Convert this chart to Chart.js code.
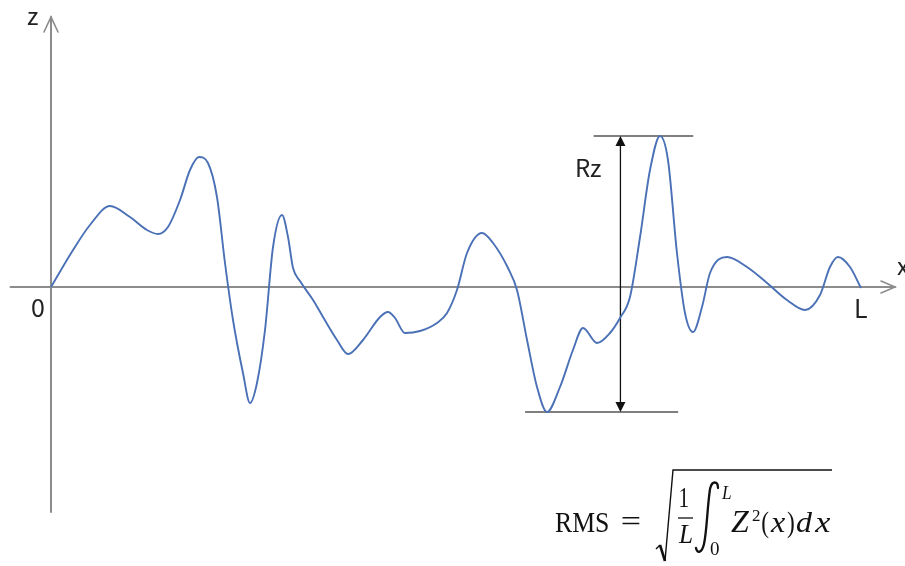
<!DOCTYPE html>
<html><head><meta charset="utf-8">
<script src="https://cdn.jsdelivr.net/npm/chart.js@4/dist/chart.umd.min.js"></script>
<style>html,body{margin:0;padding:0;background:#fff}#wrap{width:905px;height:566px;position:relative}</style>
</head><body><div id="wrap"><canvas id="c"></canvas></div>
<script>
// Profile position along the sampling length (L = 100)
const profileX = [0, 2.72, 4.81, 7.28, 9.75, 11.85, 13.21, 14.44, 15.93, 17.16, 18.27, 19.38, 20.49, 21.48, 22.47, 23.70, 24.57, 25.43, 26.42, 27.41, 28.52, 29.26, 29.88, 30.74, 32.35, 33.58, 35.31, 36.67, 38.52, 40.62, 41.60, 42.47, 43.70, 45.56, 47.65, 48.89, 50.12, 51.36, 53.21, 54.57, 56.42, 57.53, 58.77, 60.00, 61.23, 62.84, 64.44, 65.68, 67.41, 69.01, 70.25, 71.48, 72.72, 73.95, 75.19, 76.17, 77.28, 78.27, 79.26, 80.37, 81.36, 83.46, 85.93, 88.40, 90.86, 93.09, 94.94, 96.17, 97.16, 98.64, 100];
// Profile height Z(x)
const profileZ = [0, 3.7, 6.2, 8.1, 7.0, 5.7, 5.3, 6.0, 8.7, 11.7, 13.0, 12.4, 9.0, 2.4, -3.3, -8.6, -11.6, -9.6, -4.3, 4.0, 7.2, 5.0, 1.9, 0.6, -1.3, -3.0, -5.3, -6.7, -5.3, -3.0, -2.5, -3.1, -4.6, -4.4, -3.6, -2.6, -0.3, 3.4, 5.4, 4.4, 1.9, -0.3, -5.3, -10.0, -12.5, -10.0, -6.3, -4.1, -5.6, -4.6, -3.1, -1.0, 5.0, 11.7, 15.1, 12.7, 3.4, -2.6, -4.5, -2.0, 1.4, 3.0, 2.0, 0.4, -1.3, -2.3, -0.8, 2.0, 3.0, 2.0, -0.1];
// Axis / tick labels
const axisNames = ['z', 'x'];
const tickLabels = ['0', 'L'];
const rzLabel = 'Rz';
const formulaLabel = 'RMS';

const L = 100;
const rzPeak = Math.max(...profileZ);
const rzValley = Math.min(...profileZ);
const rzPeakX = profileX[profileZ.indexOf(rzPeak)];
const rzValleyX = profileX[profileZ.indexOf(rzValley)];

function drawFit(ctx, text, font, x, base, w) {
  ctx.save();
  ctx.font = font;
  ctx.textAlign = 'left';
  ctx.textBaseline = 'alphabetic';
  const m = ctx.measureText(text);
  const ink = m.actualBoundingBoxRight + m.actualBoundingBoxLeft;
  const s = ink > 0 ? w / ink : 1;
  ctx.translate(x, base);
  ctx.scale(s, 1);
  ctx.fillText(text, m.actualBoundingBoxLeft, 0);
  ctx.restore();
}

const decor = {
  id: 'decor',
  beforeDatasetsDraw(chart) {
    const ctx = chart.ctx, xs = chart.scales.x, ys = chart.scales.y;
    const px = v => xs.getPixelForValue(v), py = v => ys.getPixelForValue(v);
    ctx.save();
    // axes
    ctx.strokeStyle = '#8c8c8c'; ctx.lineWidth = 2; ctx.lineCap = 'round';
    const x0 = px(0), y0 = py(0);
    const xr = px(104.2), yt = py(27.0), yb = py(-22.5), xl = px(-5);
    ctx.beginPath(); ctx.moveTo(xl, y0); ctx.lineTo(xr, y0); ctx.stroke();
    ctx.beginPath(); ctx.moveTo(x0, yb); ctx.lineTo(x0, yt); ctx.stroke();
    ctx.lineWidth = 1.6;
    ctx.beginPath(); ctx.moveTo(xr - 14, y0 - 6); ctx.lineTo(xr, y0); ctx.lineTo(xr - 14, y0 + 6); ctx.stroke();
    ctx.beginPath(); ctx.moveTo(x0 - 7, yt + 15); ctx.lineTo(x0, yt); ctx.lineTo(x0 + 7, yt + 15); ctx.stroke();
    // Rz reference lines
    ctx.strokeStyle = '#555'; ctx.lineWidth = 1.5; ctx.lineCap = 'butt';
    const yp = py(rzPeak), yv = py(rzValley);
    ctx.beginPath(); ctx.moveTo(px(rzPeakX - 8.2), yp); ctx.lineTo(px(rzPeakX + 4.1), yp); ctx.stroke();
    ctx.beginPath(); ctx.moveTo(px(rzValleyX - 2.7), yv); ctx.lineTo(px(rzValleyX + 16.2), yv); ctx.stroke();
    // Rz dimension arrow
    const xa = px(70.3);
    ctx.strokeStyle = '#111'; ctx.lineWidth = 1.3;
    ctx.beginPath(); ctx.moveTo(xa, yp + 8); ctx.lineTo(xa, yv - 8); ctx.stroke();
    ctx.fillStyle = '#111';
    ctx.beginPath(); ctx.moveTo(xa, yp); ctx.lineTo(xa - 5, yp + 10); ctx.lineTo(xa + 5, yp + 10); ctx.closePath(); ctx.fill();
    ctx.beginPath(); ctx.moveTo(xa, yv); ctx.lineTo(xa - 5, yv - 10); ctx.lineTo(xa + 5, yv - 10); ctx.closePath(); ctx.fill();
    ctx.restore();
  },
  afterDatasetsDraw(chart) {
    const ctx = chart.ctx, xs = chart.scales.x;
    const px = v => xs.getPixelForValue(v);
    ctx.save();
    ctx.fillStyle = '#222';
    ctx.font = '24px "Noto Sans CJK JP", "Noto Sans", sans-serif';
    ctx.textBaseline = 'alphabetic'; ctx.textAlign = 'left';
    ctx.fillText(axisNames[0], 27, 25);
    ctx.fillText(axisNames[1], 897, 275);
    ctx.font = '25px "Noto Sans CJK JP", "Noto Sans", sans-serif';
    ctx.fillText(tickLabels[0], 31, 317);
    ctx.fillText(tickLabels[1], px(L) - 7, 318);
    ctx.font = '24px "Noto Sans CJK JP", "Noto Sans", sans-serif';
    ctx.fillText(rzLabel, 575, 177);

    // RMS formula
    const serif = '"Liberation Serif", "DejaVu Serif", serif';
    const it = 'italic ';
    ctx.fillStyle = '#111';
    drawFit(ctx, formulaLabel, '30px ' + serif, 555, 532, 53);
    drawFit(ctx, '=', '30px ' + serif, 622, 531, 18);
    // radical
    ctx.strokeStyle = '#111'; ctx.lineJoin = 'miter'; ctx.lineCap = 'butt';
    ctx.lineWidth = 1.4;
    ctx.beginPath(); ctx.moveTo(656, 549); ctx.lineTo(660, 545); ctx.stroke();
    ctx.lineWidth = 2.6;
    ctx.beginPath(); ctx.moveTo(660, 545); ctx.lineTo(665, 561); ctx.stroke();
    ctx.lineWidth = 1.4;
    ctx.beginPath(); ctx.moveTo(665, 561); ctx.lineTo(673, 470); ctx.lineTo(832, 470); ctx.stroke();
    // fraction 1/L
    drawFit(ctx, '1', '29px ' + serif, 680, 507, 8);
    ctx.lineWidth = 1.3;
    ctx.beginPath(); ctx.moveTo(678, 518); ctx.lineTo(693, 518); ctx.stroke();
    drawFit(ctx, 'L', it + '27px ' + serif, 678, 543, 14);
    // integral
    ctx.lineWidth = 2.3; ctx.lineCap = 'round';
    ctx.beginPath();
    ctx.moveTo(718, 488);
    ctx.bezierCurveTo(718, 481, 712, 480, 710, 489);
    ctx.bezierCurveTo(707, 510, 707, 530, 704, 544);
    ctx.bezierCurveTo(702, 553, 697, 554, 696, 548);
    ctx.stroke();
    drawFit(ctx, 'L', it + '19px ' + serif, 721, 499, 10);
    drawFit(ctx, '0', '19px ' + serif, 710, 555, 9);
    // Z^2(x)dx
    drawFit(ctx, 'Z', it + '32px ' + serif, 731, 532, 19);
    drawFit(ctx, '2', '17px ' + serif, 752, 521, 8);
    drawFit(ctx, '(', '30px ' + serif, 762, 532, 7);
    drawFit(ctx, 'x', it + '30px ' + serif, 770, 532, 16);
    drawFit(ctx, ')', '30px ' + serif, 787, 532, 7);
    drawFit(ctx, 'd', it + '30px ' + serif, 796, 532, 17);
    drawFit(ctx, 'x', it + '30px ' + serif, 814, 532, 17);
    ctx.restore();
  }
};

new Chart(document.getElementById('c'), {
  type: 'line',
  data: {
    datasets: [{
      data: profileX.map((x, i) => ({ x, y: profileZ[i] })),
      borderColor: '#4a70b6',
      borderWidth: 1.9,
      pointRadius: 0,
      fill: false,
      cubicInterpolationMode: 'monotone'
    }]
  },
  options: {
    responsive: true,
    maintainAspectRatio: false,
    animation: false,
    layout: { padding: 0 },
    plugins: { legend: { display: false }, tooltip: { enabled: false } },
    scales: {
      x: { type: 'linear', display: false, min: -51 / 8.1, max: (905 - 51) / 8.1 },
      y: { type: 'linear', display: false, min: -27.9, max: 28.7 }
    }
  },
  plugins: [decor]
});
</script></body></html>
